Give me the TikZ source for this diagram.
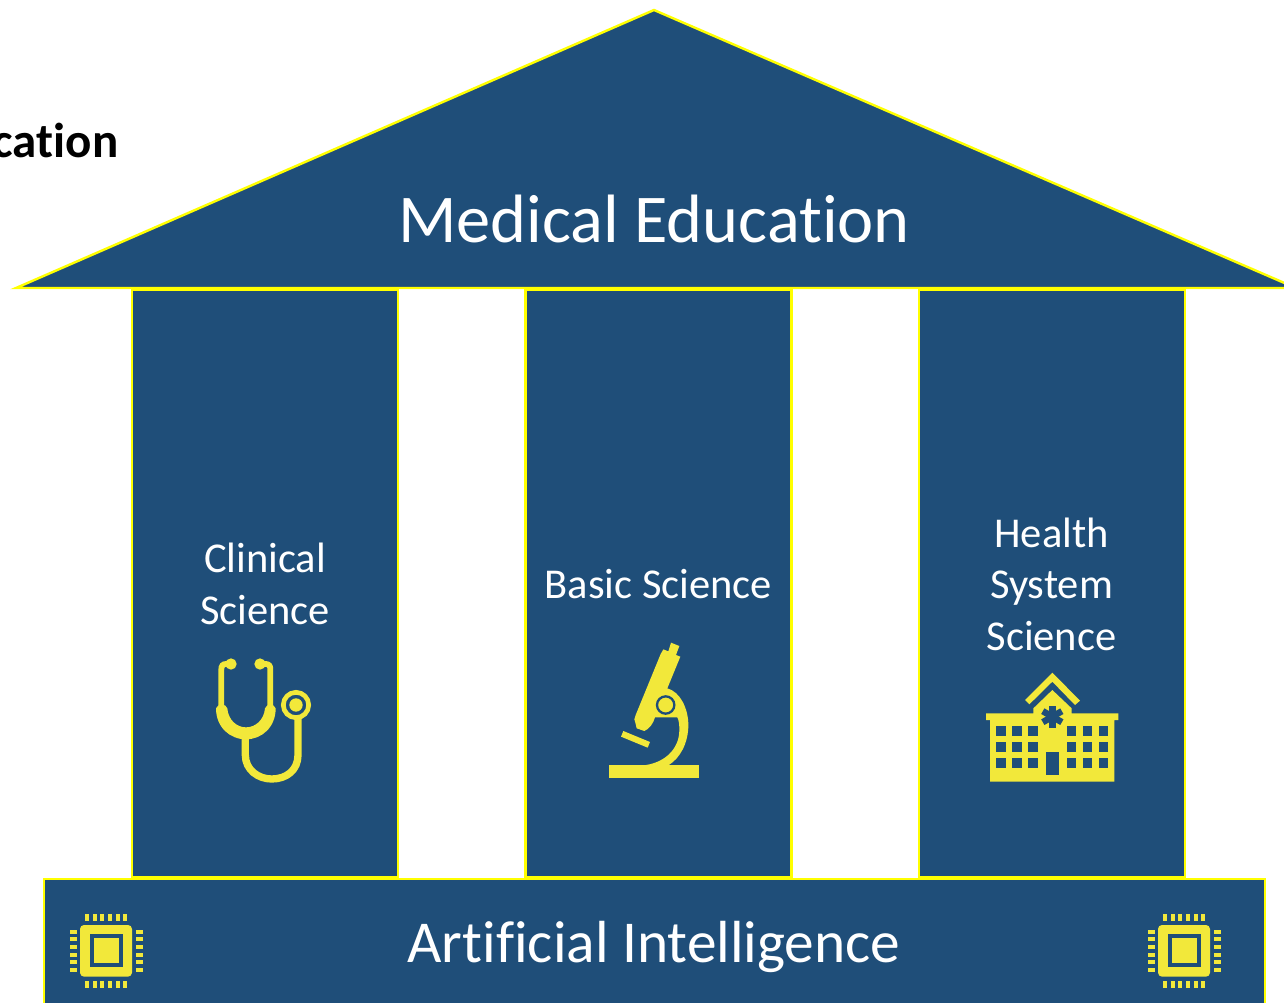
\documentclass[tikz,border=0pt]{standalone}
\usepackage{fontspec}
\setmainfont{Carlito}[Ligatures=NoCommon]
\definecolor{navy}{HTML}{1F4E79}
\definecolor{edge}{HTML}{FFFF00}
\definecolor{icon}{HTML}{F2E83A}
\tikzset{
  part/.style={fill=navy,draw=edge,line width=2.4pt},
  pillartext/.style={text=white,font=\fontsize{42.5}{51.5}\selectfont,align=center,inner sep=0pt},
  icontube/.style={draw=icon,fill=none,line width=5.8pt,line cap=round},
  zoomed/.style={x=0.33333pt,y=-0.33333pt},
  chip/.pic={
    \fill[icon,rounded corners=4pt] (150,165) rectangle (306,320);
    \fill[navy] (179,192) rectangle (278,291);
    \fill[icon] (191,204) rectangle (267,280);
    \foreach \k in {0,...,5}{
      \fill[icon] (165+23*\k,133) rectangle (177+23*\k,154);
      \fill[icon] (165+23*\k,332) rectangle (177+23*\k,353);
      \fill[icon] (119,179+23*\k) rectangle (140,191+23*\k);
      \fill[icon] (317,179+23*\k) rectangle (339,191+23*\k);
    }
  }
}
\begin{document}
\begin{tikzpicture}[x=1pt,y=-1pt]
\useasboundingbox (0,0) rectangle (1284,1003);
\clip (0,0) rectangle (1284,1003);
\fill[white] (0,0) rectangle (1284,1003);
% title fragment
\node[anchor=base east,font=\fontsize{49}{50}\selectfont\bfseries,text=black,inner sep=0pt] (title) at (118.5,158) {cation};
% temple
\draw[part,line join=miter] (654,10) -- (1296,288) -- (16,288) -- cycle;
\draw[part] (132,290) rectangle (398,877);
\draw[part] (525.5,290) rectangle (791.5,877);
\draw[part] (919,290) rectangle (1185,877);
\draw[part] (44,879) rectangle (1265,1012);
% labels
\node[text=white,font=\fontsize{68.4}{70}\selectfont,inner sep=0pt] (roof) at (654,219) {Medical Education};
\node[pillartext] (clinical) at (265,584) {Clinical\\Science};
\node[pillartext] (basic) at (658.5,584) {Basic Science};
\node[pillartext] (health) at (1051.5,584) {Health\\System\\Science};
\node[text=white,font=\fontsize{59.4}{60}\selectfont,inner sep=0pt] (ai) at (654,947) {Artificial Intelligence};
% stethoscope
\begin{scope}[shift={(190,640)},zoomed]
  \draw[icontube] (123,72) -- (108,72) .. controls (98,72) and (94,78) .. (94,88) -- (94,195) .. controls (94,250) and (130,280) .. (168,280) .. controls (206,280) and (241,250) .. (241,195) -- (241,88) .. controls (241,78) and (237,72) .. (227,72) -- (210,72);
  \fill[icon] (123,72) circle (17);
  \fill[icon] (210,72) circle (17);
  \fill[icon] (78,205) .. controls (83,190) and (108,190) .. (112,205) .. controls (115,240) and (140,262) .. (168,262) .. controls (196,262) and (222,240) .. (225,205) .. controls (230,190) and (252,190) .. (257,205) .. controls (257,262) and (215,298) .. (168,298) .. controls (120,298) and (78,262) .. (78,205) -- cycle;
  \draw[icontube,line width=7.3pt,line cap=butt] (166,285) -- (166,345) .. controls (166,390) and (205,417) .. (245,417) .. controls (290,417) and (324,390) .. (324,345) -- (324,235);
  \draw[icon,line width=4.7pt] (318,195) circle (38);
  \fill[icon] (318,195) circle (20);
\end{scope}
% microscope
\begin{scope}[shift={(590,630)},zoomed]
  \fill[icon] (57,406) rectangle (328,445);
  \fill[icon] (243,38) -- (268,48) -- (258,75) -- (271,80) -- (232,175)
    .. controls (270,185) and (295,235) .. (295,285)
    .. controls (295,340) and (270,385) .. (235,406) -- (160,406)
    .. controls (220,400) and (268,360) .. (268,300)
    .. controls (268,285) and (267,272) .. (262,262) -- (195,262)
    .. controls (190,280) and (178,297) .. (163,303) -- (140,295) -- (136,278) -- (133,268) -- (137,255) -- (212,72) -- (220,58) -- (235,64) -- cycle;
  \draw[navy,line width=2.3pt,fill=icon] (227,225) circle (26);
  \fill[icon] (100,303) -- (180,336) -- (173,353) -- (93,320) -- cycle;
\end{scope}
% hospital
\begin{scope}[shift={(975,660)},zoomed]
  \fill[icon] (232,38) -- (315,122) -- (300,135) -- (232,65) -- (163,133) -- (150,120) -- cycle;
  \fill[icon] (175,160) -- (175,145) -- (232,90) -- (290,145) -- (290,160) -- (430,160) -- (430,180) -- (418,180) -- (418,365) -- (45,365) -- (45,180) -- (33,180) -- (33,160) -- cycle;
  \foreach \wx in {63,111,159,275,323,371}
    \foreach \wy in {199,247,295}
      \fill[navy] (\wx,\wy) rectangle (\wx+29,\wy+30);
  \fill[navy] (212,276) rectangle (251,344);
  \foreach \a in {90,150,210}
    \draw[navy,line width=6.5pt] ({232+33*cos(\a)},{170+33*sin(\a)}) -- ({232-33*cos(\a)},{170-33*sin(\a)});
\end{scope}
% chips
\begin{scope}[shift={(30,870)},zoomed]
  \pic {chip};
\end{scope}
\begin{scope}[shift={(1108,870)},zoomed]
  \pic {chip};
\end{scope}
\end{tikzpicture}
\end{document}
